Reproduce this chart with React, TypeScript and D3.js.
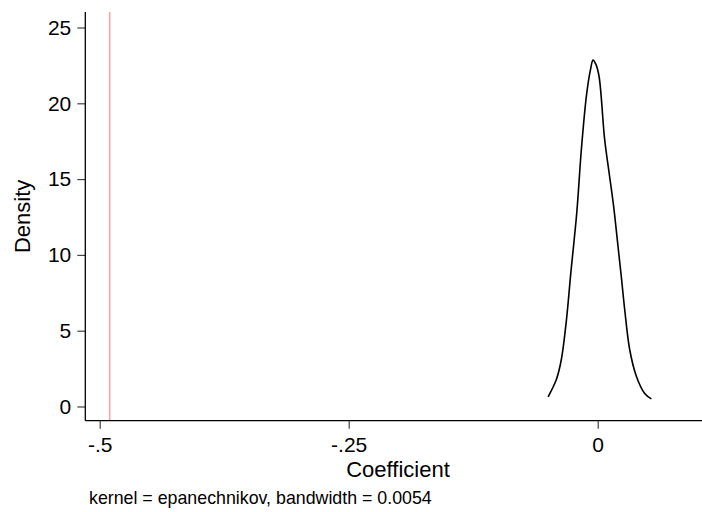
import React, { useEffect, useRef } from "react";
import * as d3 from "d3";

// kernel density estimate
const coefX = [-0.0498, -0.0415, -0.0365, -0.0314, -0.027, -0.021, -0.0164, -0.0113, -0.0073, -0.0047, -0.002, 0.0013, 0.007, 0.0115, 0.016, 0.02, 0.0238, 0.0271, 0.0321, 0.0388, 0.0472, 0.0539];
const densityY = [0.64, 1.78, 3.1, 5.7, 8.8, 12.8, 16.95, 20.5, 22.2, 22.85, 22.6, 21.8, 17.6, 15.4, 13.2, 10.8, 8.5, 6.4, 3.76, 2.0, 0.86, 0.5];

// reference line (true coefficient)
const refLine = -0.49;

const xTicks = [-0.5, -0.25, 0];
const xTickLabels = ["-.5", "-.25", "0"];
const yTicks = [0, 5, 10, 15, 20, 25];

const noteText = "kernel = epanechnikov, bandwidth = 0.0054";

export default function App() {
  const ref = useRef<SVGSVGElement>(null);

  useEffect(() => {
    const svg = d3.select(ref.current);
    svg.selectAll("*").remove();

    const font = "'Liberation Sans', Arial, Helvetica, sans-serif";
    const left = 85.3;
    const right = 702;
    const top = 12;
    const bottom = 420.7;

    const x = d3.scaleLinear().domain([-0.5, 0]).range([99.7, 597.7]);
    const y = d3.scaleLinear().domain([0, 25]).range([406.5, 27.5]);

    // vertical reference line
    svg.append("line")
      .attr("x1", x(refLine)).attr("x2", x(refLine))
      .attr("y1", top).attr("y2", bottom)
      .attr("stroke", "#f4a4a4")
      .attr("stroke-width", 1.6);

    // y axis
    const yAxis = svg.append("g")
      .attr("transform", `translate(${left},0)`)
      .call(d3.axisLeft(y).tickValues(yTicks).tickSize(8).tickPadding(6).tickFormat(d3.format("d")));
    yAxis.select(".domain").remove();
    yAxis.selectAll("line").attr("stroke", "#444").attr("stroke-width", 1.2);
    yAxis.selectAll("text")
      .attr("font-family", font)
      .attr("font-size", 21)
      .attr("fill", "#000");

    // x axis
    const xAxis = svg.append("g")
      .attr("transform", `translate(0,${bottom})`)
      .call(d3.axisBottom(x).tickValues(xTicks).tickSize(8).tickPadding(8.5)
        .tickFormat((d, i) => xTickLabels[i]));
    xAxis.select(".domain").remove();
    xAxis.selectAll("line").attr("stroke", "#444").attr("stroke-width", 1.2);
    xAxis.selectAll("text")
      .attr("font-family", font)
      .attr("font-size", 21)
      .attr("fill", "#000");

    // axis lines
    svg.append("line")
      .attr("x1", left).attr("x2", left).attr("y1", top).attr("y2", bottom)
      .attr("stroke", "#000").attr("stroke-width", 1.3);
    svg.append("line")
      .attr("x1", left).attr("x2", right).attr("y1", bottom).attr("y2", bottom)
      .attr("stroke", "#000").attr("stroke-width", 1.3);

    // density curve
    const pts = coefX.map((c, i) => [c, densityY[i]] as [number, number]);
    const line = d3.line<[number, number]>()
      .x(d => x(d[0]))
      .y(d => y(d[1]))
      .curve(d3.curveCatmullRom);
    svg.append("path")
      .datum(pts)
      .attr("d", line)
      .attr("fill", "none")
      .attr("stroke", "#000")
      .attr("stroke-width", 1.6);

    // titles
    svg.append("text")
      .attr("transform", `translate(30,${(top + bottom) / 2}) rotate(-90)`)
      .attr("text-anchor", "middle")
      .attr("font-family", font)
      .attr("font-size", 22)
      .text("Density");

    svg.append("text")
      .attr("x", 398)
      .attr("y", 477)
      .attr("text-anchor", "middle")
      .attr("font-family", font)
      .attr("font-size", 22)
      .text("Coefficient");

    svg.append("text")
      .attr("x", 89)
      .attr("y", 504)
      .attr("font-family", font)
      .attr("font-size", 17.8)
      .text(noteText);
  }, []);

  return (
    <svg ref={ref} width={702} height={512}
      style={{ position: "absolute", left: 0, top: 0, background: "#fff" }} />
  );
}
